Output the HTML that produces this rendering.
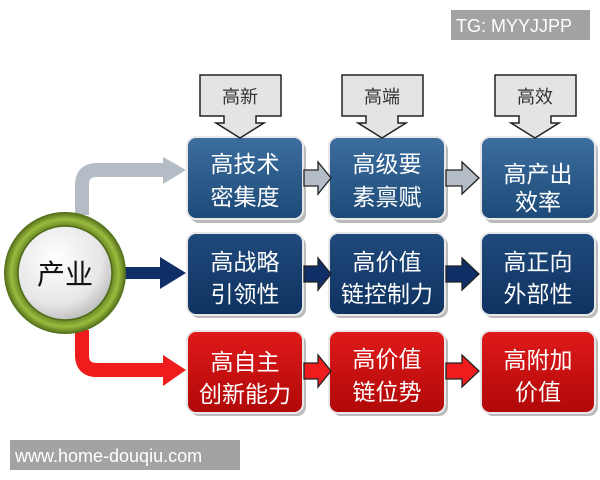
<!DOCTYPE html>
<html><head><meta charset="utf-8"><style>
html,body{margin:0;padding:0;background:#fff;}
svg{display:block;}
text{font-family:"Liberation Sans","Noto Sans CJK SC",sans-serif;}
</style></head><body>
<svg width="600" height="480" viewBox="0 0 600 480" xmlns="http://www.w3.org/2000/svg">
<defs>
<linearGradient id="blue" x1="0" y1="0" x2="0" y2="1"><stop offset="0" stop-color="#3c6e9e"/><stop offset="1" stop-color="#1d4a78"/></linearGradient>
<linearGradient id="navy" x1="0" y1="0" x2="0" y2="1"><stop offset="0" stop-color="#1f4a7c"/><stop offset="1" stop-color="#0f3260"/></linearGradient>
<linearGradient id="red" x1="0" y1="0" x2="0" y2="1"><stop offset="0" stop-color="#e01a1a"/><stop offset="1" stop-color="#b00808"/></linearGradient>
<radialGradient id="ball" cx="0.4" cy="0.35" r="0.7"><stop offset="0" stop-color="#ffffff"/><stop offset="0.7" stop-color="#e6e6e6"/><stop offset="1" stop-color="#b8b8b8"/></radialGradient>
<radialGradient id="ring" cx="0.5" cy="0.5" r="0.5"><stop offset="0.75" stop-color="#5e7d1e"/><stop offset="0.88" stop-color="#9cbb3e"/><stop offset="1" stop-color="#4e6a18"/></radialGradient>
</defs>
<rect width="600" height="480" fill="#fff"/>
<path d="M82 215 V185 Q82 170 97 170 H165" fill="none" stroke="#b4bcc6" stroke-width="14"/>
<polygon points="163,157 186,170 163,184" fill="#b4bcc6"/>
<rect x="120" y="267" width="45" height="12" fill="#0f2f66"/>
<polygon points="160,257 186,273 160,289" fill="#0f2f66"/>
<path d="M82 330 V355 Q82 370 97 370 H165" fill="none" stroke="#ee1c1c" stroke-width="14"/>
<polygon points="163,355 186,370 163,386" fill="#ee1c1c"/>
<circle cx="65" cy="273" r="61" fill="url(#ring)"/>
<circle cx="65" cy="273" r="47" fill="url(#ball)" stroke="#4e6a18" stroke-width="1.5"/>
<text x="65" y="284" font-size="28" text-anchor="middle" fill="#111">产业</text>
<g fill="#bbb">
<rect x="190" y="141" width="116" height="82" rx="9"/><rect x="332" y="141" width="116" height="82" rx="9"/><rect x="484" y="141" width="114" height="82" rx="9"/>
<rect x="190" y="236" width="116" height="82" rx="9"/><rect x="332" y="236" width="116" height="82" rx="9"/><rect x="484" y="236" width="114" height="82" rx="9"/>
<rect x="190" y="334" width="116" height="82" rx="9"/><rect x="332" y="334" width="116" height="82" rx="9"/><rect x="484" y="334" width="114" height="82" rx="9"/>
</g>
<g stroke="#e8e8e8" stroke-width="2">
<rect x="187" y="137" width="116" height="82" rx="9" fill="url(#blue)"/>
<rect x="329" y="137" width="116" height="82" rx="9" fill="url(#blue)"/>
<rect x="481" y="137" width="114" height="82" rx="9" fill="url(#blue)"/>
<rect x="187" y="233" width="116" height="82" rx="9" fill="url(#navy)"/>
<rect x="329" y="233" width="116" height="82" rx="9" fill="url(#navy)"/>
<rect x="481" y="233" width="114" height="82" rx="9" fill="url(#navy)"/>
<rect x="187" y="331" width="116" height="82" rx="9" fill="url(#red)"/>
<rect x="329" y="331" width="116" height="82" rx="9" fill="url(#red)"/>
<rect x="481" y="331" width="114" height="82" rx="9" fill="url(#red)"/>
</g>
<g fill="#e4e4e4" stroke="#222" stroke-width="1.5">
<path d="M200 75 H281 V116 H256 V123 H264 L240 138 L216 123 H224 V116 H200 Z"/>
<path d="M342 75 H423 V116 H398 V123 H406 L382 138 L358 123 H366 V116 H342 Z"/>
<path d="M495 75 H576 V116 H551 V123 H559 L535 138 L511 123 H519 V116 H495 Z"/>
</g>
<g font-size="18" fill="#333" text-anchor="middle">
<text x="240" y="103">高新</text><text x="382" y="103">高端</text><text x="535" y="103">高效</text>
</g>
<g stroke="#222" stroke-width="1.3">
<path d="M304 170 H318 V162 L331 178 L318 194 V186 H304 Z" fill="#b4bcc6"/>
<path d="M446 170 H462 V162 L479 178 L462 194 V186 H446 Z" fill="#b4bcc6"/>
<path d="M304 266 H318 V258 L331 274 L318 290 V282 H304 Z" fill="#0f2f66"/>
<path d="M446 266 H462 V258 L479 274 L462 290 V282 H446 Z" fill="#0f2f66"/>
<path d="M304 363 H318 V355 L331 371 L318 387 V379 H304 Z" fill="#ee1c1c"/>
<path d="M446 363 H462 V355 L479 371 L462 387 V379 H446 Z" fill="#ee1c1c"/>
</g>
<g font-size="23" fill="#fff" text-anchor="middle">
<text x="245" y="172">高技术</text><text x="245" y="205">密集度</text>
<text x="387" y="172">高级要</text><text x="387" y="205">素禀赋</text>
<text x="538" y="182">高产出</text><text x="538" y="210">效率</text>
<text x="245" y="270">高战略</text><text x="245" y="302">引领性</text>
<text x="387" y="270">高价值</text><text x="387" y="302">链控制力</text>
<text x="538" y="270">高正向</text><text x="538" y="302">外部性</text>
<text x="245" y="370">高自主</text><text x="245" y="402">创新能力</text>
<text x="387" y="367">高价值</text><text x="387" y="400">链位势</text>
<text x="538" y="368">高附加</text><text x="538" y="400">价值</text>
</g>
<rect x="451" y="10" width="139" height="30" fill="#a3a3a3"/>
<text x="456" y="32" font-size="18" fill="#fff">TG: MYYJJPP</text>
<rect x="10" y="440" width="230" height="30" fill="#a3a3a3"/>
<text x="15" y="462" font-size="18" fill="#fff">www.home-douqiu.com</text>
</svg>
</body></html>
